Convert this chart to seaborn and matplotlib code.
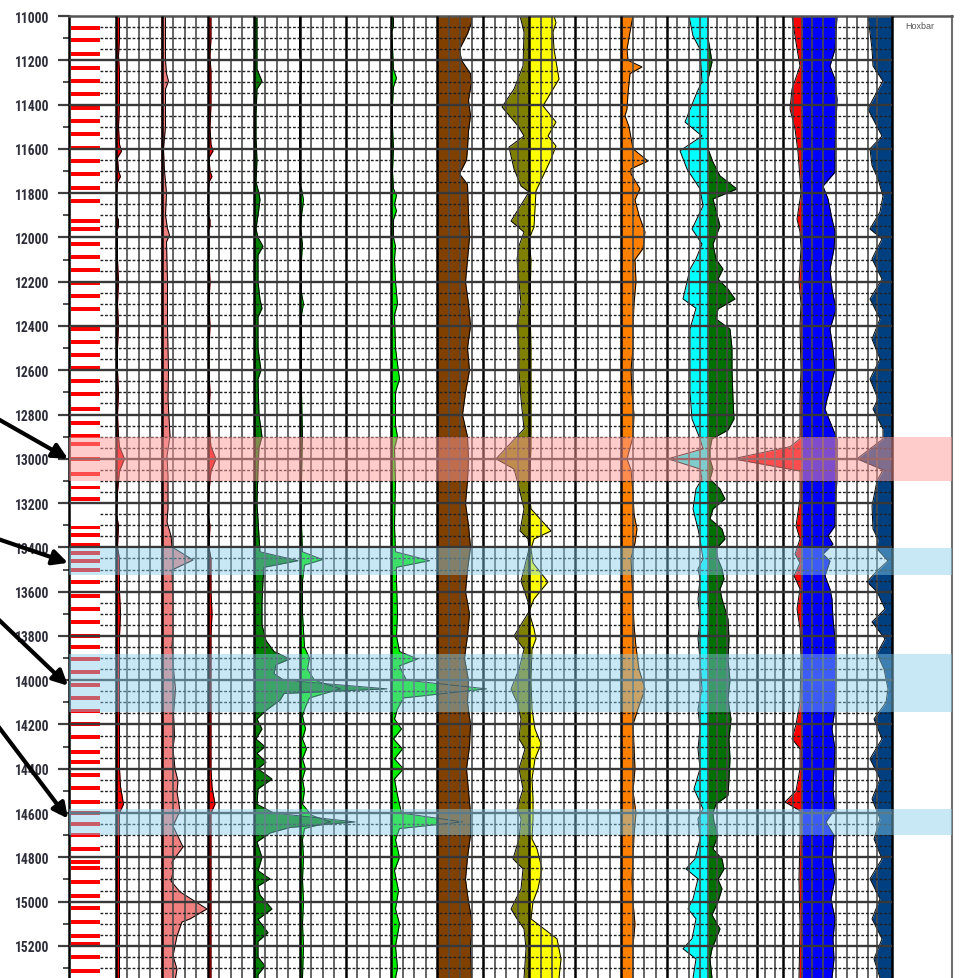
import numpy as np
import matplotlib
matplotlib.use("Agg")
import matplotlib.pyplot as plt
from matplotlib import font_manager
import seaborn as sns

# ---------------- data (depth ft, value in track units) ----------------
litho_depths = [11054, 11108, 11172, 11235, 11294, 11352, 11415, 11474, 11533, 11596, 11655,
                11713, 11777, 11835, 11926, 11962, 12030, 12088, 12147, 12206, 12264, 12323,
                12414, 12472, 12531, 12590, 12648, 12707, 12775, 12838, 12897, 12933, 13000,
                13068, 13130, 13180, 13310, 13343, 13389, 13425, 13461, 13502, 13556, 13619,
                13678, 13737, 13800, 13850, 13904, 13962, 14021, 14080, 14139, 14197, 14256,
                14324, 14369, 14428, 14487, 14550, 14600, 14649, 14699, 14762, 14821, 14848,
                14911, 14974, 15028, 15092, 15155, 15191, 15250, 15313]

red_curve = [(11000, 3), (11100, 3), (11180, 2), (11250, 3), (11400, 3), (11500, 2), (11580, 3),
             (11610, 5), (11640, 1), (11700, 2), (11725, 4), (11750, 1), (11800, 0), (11900, 0),
             (11920, 2), (11950, 2), (11970, 0), (12000, 1), (12100, 1), (12200, 2), (12300, 1),
             (12400, 2), (12500, 1), (12600, 1), (12700, 2), (12800, 1), (12900, 2), (12945, 3),
             (13000, 8), (13055, 3), (13100, 2), (13150, 1), (13250, 0), (13300, 2), (13400, 1),
             (13450, 3), (13600, 3), (13700, 4), (13800, 3), (14000, 3), (14200, 3), (14400, 3),
             (14480, 4), (14560, 7), (14600, 3), (14800, 3), (15000, 3), (15200, 3), (15345, 3)]

pink_curve = [(11000, 5), (11100, 5), (11200, 5), (11260, 6), (11294, 8), (11330, 5), (11500, 5),
              (11600, 3), (11700, 4), (11800, 6), (11900, 5), (11960, 7), (11990, 9), (12020, 6),
              (12200, 7), (12400, 7), (12600, 8), (12730, 7.5), (12897, 9.5), (12987, 6.5),
              (13077, 7.5), (13226, 7.5), (13285, 6.5), (13348, 10.5), (13398, 11.5), (13457, 32.5),
              (13502, 11.5), (13633, 12.5), (13782, 12.5), (13845, 11.5), (13950, 13), (14040, 15),
              (14150, 13), (14250, 14), (14310, 12.5), (14400, 14.5), (14455, 17.5), (14505, 16.5),
              (14590, 19.5), (14658, 12.5), (14753, 22.5), (14821, 11.5), (14866, 12.5),
              (14907, 10.5), (14956, 19.5), (15033, 46.5), (15078, 29.5), (15092, 21.5),
              (15155, 16.5), (15245, 12.5), (15304, 16.5), (15345, 15)]

dkgreen_curve = [(11000, 3), (11150, 3), (11240, 3), (11294, 8), (11330, 3), (11450, 2), (11550, 2),
                 (11650, 3), (11750, 2), (11800, 5), (11830, 6), (11900, 4), (11960, 2), (12000, 4),
                 (12040, 9), (12080, 4), (12200, 4), (12280, 6), (12320, 8), (12360, 4), (12500, 4),
                 (12600, 7), (12640, 4), (12800, 5), (12900, 8), (12950, 5), (13050, 4), (13200, 3),
                 (13350, 5), (13420, 6), (13460, 44), (13490, 10), (13550, 9), (13650, 8), (13750, 8),
                 (13820, 12), (13870, 20), (13904, 36), (13930, 22), (13970, 20), (14000, 30),
                 (14039, 133), (14060, 30), (14090, 26), (14140, 11), (14175, 3), (14220, 8),
                 (14265, 2), (14300, 11), (14330, 3), (14370, 12), (14400, 4), (14446, 18),
                 (14491, 4), (14560, 3), (14600, 20), (14640, 101), (14665, 36), (14690, 16),
                 (14730, 3), (14800, 8), (14860, 4), (14897, 16), (14930, 4), (14970, 6),
                 (15033, 18), (15080, 4), (15140, 14), (15180, 4), (15250, 4), (15290, 11),
                 (15330, 4), (15345, 4)]

ltgreen1_curve = [(11000, 0), (11180, 0), (11200, 2), (11300, 2), (11320, 0), (11760, 0), (11780, 2),
                  (11830, 4), (11870, 3), (11900, 2), (11960, 1), (12030, 3), (12100, 2), (12250, 2),
                  (12300, 4), (12350, 2), (12500, 2), (12700, 2), (12900, 3), (13100, 2), (13300, 2),
                  (13420, 3), (13455, 23), (13480, 5), (13550, 3), (13700, 3), (13850, 5), (13900, 10),
                  (13950, 8), (14000, 15), (14039, 41), (14080, 10), (14120, 6), (14160, 3),
                  (14220, 6), (14265, 3), (14310, 7), (14355, 3), (14400, 6), (14446, 3), (14500, 5),
                  (14560, 3), (14610, 12), (14640, 31), (14670, 5), (14720, 3), (14800, 4),
                  (14900, 3), (15000, 4), (15100, 3), (15200, 4), (15345, 3)]

ltgreen2_curve = [(11000, 2), (11050, 2), (11070, 0), (11140, 1), (11240, 2), (11280, 5), (11320, 2),
                  (11400, 1), (11500, 1), (11600, 2), (11700, 1), (11780, 2), (11810, 5), (11850, 3),
                  (11880, 5), (11920, 2), (12000, 2), (12040, 4), (12100, 3), (12200, 4), (12300, 6),
                  (12350, 3), (12500, 4), (12640, 8), (12700, 4), (12850, 4), (12900, 6), (12950, 3),
                  (13100, 4), (13300, 3), (13420, 4), (13460, 38), (13490, 5), (13550, 5), (13700, 6),
                  (13800, 5), (13870, 8), (13904, 26), (13935, 8), (13965, 11), (14000, 15),
                  (14039, 95), (14080, 12), (14130, 6), (14175, 3), (14220, 10), (14265, 2),
                  (14310, 11), (14355, 3), (14400, 12), (14446, 3), (14520, 6), (14600, 10),
                  (14640, 71), (14670, 8), (14720, 4), (14800, 8), (14860, 3), (14950, 7),
                  (15033, 4), (15100, 8), (15200, 4), (15300, 6), (15345, 4)]

brown_curve = [(11000, 34), (11030, 34), (11080, 30), (11150, 22), (11200, 24), (11260, 33),
               (11300, 34), (11380, 31), (11450, 33), (11520, 31), (11600, 30), (11650, 29),
               (11713, 22), (11760, 30), (11900, 31), (12000, 32), (12100, 30), (12200, 28),
               (12300, 31), (12400, 33), (12500, 30), (12600, 32), (12700, 28), (12800, 25),
               (12900, 30), (13000, 31), (13100, 30), (13200, 28), (13300, 31), (13400, 33),
               (13500, 30), (13600, 28), (13700, 32), (13800, 30), (13900, 27), (14000, 31),
               (14100, 30), (14200, 33), (14300, 32), (14400, 29), (14500, 31), (14600, 33),
               (14700, 33), (14800, 30), (14900, 28), (15000, 31), (15100, 35), (15200, 33),
               (15345, 34)]

olive_curve = [(11000, 9), (11072, 5), (11226, 6), (11330, 15), (11411, 27), (11497, 11), (11542, 5),
               (11592, 20), (11691, 15), (11768, 8), (11795, 0), (11926, 18), (11976, 5), (12038, 10),
               (12100, 12), (12200, 10), (12300, 8), (12400, 12), (12500, 10), (12600, 10),
               (12730, 8), (12865, 5), (13000, 33), (13046, 15), (13113, 11), (13226, 5), (13326, 9),
               (13362, 1), (13407, 0), (13552, 8), (13646, 1), (13690, 0), (13800, 15), (13860, 5),
               (13950, 10), (14040, 18), (14100, 12), (14175, 8), (14265, 10), (14310, 4),
               (14400, 10), (14491, 6), (14581, 12), (14626, 8), (14717, 10), (14807, 16),
               (14852, 6), (14942, 8), (15033, 18), (15078, 12), (15123, 5), (15213, 3), (15345, 5)]

yellow_curve = [(11000, 25), (11030, 27), (11072, 24), (11150, 25), (11285, 30), (11330, 24),
                (11406, 14), (11479, 27), (11542, 19), (11587, 27), (11646, 22), (11790, 7),
                (11953, 5), (12007, 0), (12100, 2), (12300, 1), (12500, 2), (12730, 2), (12955, 2),
                (13136, 0), (13226, 2), (13326, 22), (13362, 5), (13407, 2), (13470, 4), (13556, 19),
                (13633, 5), (13690, 0), (13768, 5), (13813, 7), (13860, 3), (14000, 2), (14130, 3),
                (14220, 6), (14288, 12), (14355, 6), (14446, 3), (14536, 4), (14626, 4), (14717, 3),
                (14762, 8), (14852, 13), (14942, 9), (15000, 4), (15078, 2), (15123, 15),
                (15168, 28), (15259, 32), (15345, 30)]

orange_curve = [(11000, 12), (11072, 9), (11150, 6), (11200, 7), (11230, 21), (11260, 9), (11350, 7),
                (11420, 6), (11450, 4), (11500, 8), (11600, 12), (11655, 27), (11690, 10),
                (11713, 10), (11780, 19), (11830, 14), (11900, 18), (11975, 24), (12050, 22),
                (12100, 14), (12200, 15), (12300, 13), (12400, 12), (12500, 12), (12600, 10),
                (12700, 11), (12800, 13), (12900, 12), (13000, 6), (13050, 10), (13150, 12),
                (13250, 13), (13317, 16), (13380, 14), (13450, 10), (13550, 11), (13650, 12),
                (13750, 13), (13850, 15), (13950, 18), (14040, 24), (14130, 17), (14200, 12),
                (14300, 13), (14400, 14), (14500, 12), (14600, 15), (14700, 13), (14800, 12),
                (14900, 11), (15000, 12), (15100, 14), (15200, 12), (15345, 12)]

cyan_curve = [(11000, 19), (11090, 15), (11150, 8), (11298, 6), (11344, 11), (11479, 23), (11542, 6),
              (11609, 28), (11691, 21), (11781, 8), (11858, 5), (11962, 16), (12030, 6), (12097, 12),
              (12143, 18), (12278, 25), (12320, 12), (12414, 18), (12550, 18), (12700, 18),
              (12820, 16), (12910, 8), (12955, 5), (13000, 40), (13046, 8), (13091, 6), (13136, 12),
              (13226, 15), (13317, 10), (13362, 8), (13452, 5), (13497, 10), (13542, 8), (13633, 10),
              (13723, 8), (13813, 10), (13904, 8), (14039, 6), (14130, 10), (14220, 8), (14310, 10),
              (14400, 8), (14491, 14), (14581, 5), (14626, 10), (14717, 8), (14807, 13), (14852, 22),
              (14897, 10), (14988, 15), (15033, 20), (15078, 12), (15168, 16), (15213, 25),
              (15259, 12), (15345, 15)]

green_curve = [(11000, 0), (11100, 0), (11150, 2), (11208, 4), (11285, 0), (11600, 0), (11660, 5),
               (11722, 12), (11781, 29), (11826, 5), (11948, 12), (12030, 5), (12097, 8), (12143, 15),
               (12188, 10), (12233, 20), (12278, 27), (12323, 10), (12368, 8), (12414, 22),
               (12500, 24), (12600, 24), (12730, 25), (12820, 26), (12870, 20), (12910, 4),
               (12955, 2), (13000, 2), (13046, 5), (13091, 2), (13136, 12), (13181, 17), (13226, 5),
               (13271, 2), (13317, 14), (13362, 17), (13407, 8), (13452, 10), (13497, 14),
               (13542, 16), (13588, 12), (13633, 14), (13723, 20), (13813, 21), (13904, 20),
               (14000, 22), (14084, 20), (14175, 23), (14265, 21), (14355, 22), (14446, 21),
               (14520, 20), (14560, 8), (14600, 5), (14640, 6), (14700, 10), (14762, 5), (14807, 14),
               (14852, 16), (14900, 10), (14942, 14), (15000, 10), (15060, 4), (15123, 12),
               (15168, 8), (15213, 4), (15259, 2), (15345, 4)]

red2_curve = [(11000, 10), (11149, 5), (11226, 2), (11330, 10), (11420, 12), (11510, 7), (11615, 4),
              (11736, 2), (11800, 1), (11917, 5), (11975, 2), (12050, 1), (12200, 3), (12300, 1),
              (12400, 2), (12600, 1), (12730, 2), (12910, 2), (12945, 12), (13000, 69), (13055, 2),
              (13181, 2), (13303, 6), (13362, 2), (13430, 7), (13470, 2), (13528, 8), (13588, 2),
              (13678, 5), (13768, 2), (13900, 1), (14100, 2), (14200, 6), (14265, 10), (14310, 2),
              (14400, 2), (14500, 6), (14550, 17), (14590, 2), (14700, 2), (14900, 3), (15100, 2),
              (15345, 3)]

blue_curve = [(11000, 35), (11149, 33), (11226, 28), (11285, 33), (11375, 35), (11600, 33),
              (11705, 33), (11768, 21), (11826, 26), (11917, 30), (11975, 33), (12050, 32),
              (12143, 28), (12233, 30), (12323, 34), (12414, 28), (12504, 31), (12594, 33),
              (12684, 28), (12730, 25), (12775, 23), (12865, 31), (12910, 35), (13091, 35),
              (13226, 33), (13303, 33), (13348, 26), (13385, 31), (13430, 21), (13461, 28),
              (13528, 23), (13588, 28), (13633, 30), (13723, 31), (13813, 33), (13904, 34),
              (14039, 34), (14130, 33), (14220, 30), (14310, 33), (14400, 32), (14491, 31),
              (14581, 33), (14640, 24), (14700, 32), (14807, 30), (14897, 33), (14988, 29),
              (15078, 33), (15168, 31), (15259, 32), (15345, 30)]

navy_curve = [(11000, 24), (11149, 20), (11226, 19), (11294, 9), (11375, 19), (11420, 24), (11465, 19),
              (11542, 10), (11600, 22), (11675, 20), (11736, 14), (11813, 9), (11885, 12),
              (11962, 22), (12007, 10), (12097, 20), (12188, 10), (12278, 22), (12368, 12),
              (12459, 20), (12549, 12), (12640, 22), (12730, 14), (12775, 19), (12865, 9),
              (12910, 9), (13000, 35), (13050, 9), (13100, 15), (13213, 20), (13317, 19),
              (13362, 14), (13407, 15), (13461, 4), (13502, 14), (13556, 25), (13600, 15),
              (13678, 7), (13737, 20), (13813, 7), (13880, 15), (13950, 8), (14039, 4), (14100, 6),
              (14175, 18), (14265, 10), (14355, 22), (14446, 12), (14536, 20), (14626, 12),
              (14717, 18), (14807, 10), (14897, 22), (14988, 12), (15078, 20), (15168, 10),
              (15259, 18), (15345, 12)]

bands = [(12900, 13100, "#ff9a9a", 0.5), (13405, 13525, "#87ceeb", 0.45),
         (13880, 14145, "#87ceeb", 0.45), (14580, 14700, "#87ceeb", 0.45)]
arrow_tips = [13000, 13470, 14025, 14625]
depth_labels = list(range(11000, 15201, 200))

# ---------------- figure ----------------
sns.set_style("white")
plt.rcParams["font.family"] = ["Liberation Sans", "DejaVu Sans"]

available = {f.name for f in font_manager.fontManager.ttflist}
label_family, label_size = "Liberation Sans", 8.8
for cand in ["Liberation Sans Narrow", "Arial Narrow", "Roboto Condensed", "DejaVu Sans Condensed"]:
    if cand in available:
        label_family, label_size = cand, 9.8
        break

W, H = 962, 979
fig = plt.figure(figsize=(W / 100, H / 100), dpi=100)
ax = fig.add_axes([69 / W, 0, (952 - 69) / W, (H - 17) / H])
ax.set_xlim(69, 952)
ax.set_ylim(15345, 11000)


def split(curve):
    d = np.array([c[0] for c in curve], float)
    v = np.array([c[1] for c in curve], float)
    return d, v


def track(curve, base, color, sign=1):
    d, v = split(curve)
    x = base + sign * v
    ax.fill_betweenx(d, base, x, color=color, lw=0, zorder=1)
    sns.lineplot(x=x, y=d, orient="y", sort=False, estimator=None,
                 color="black", lw=0.7, ax=ax, zorder=2)


track(red_curve, 116.5, "#ff0000")
track(pink_curve, 160.5, "#f08080")
track(red_curve, 208, "#ff0000")
track(ltgreen1_curve, 299.5, "#00f000")
track(dkgreen_curve, 254, "#008000")
track(ltgreen2_curve, 391.5, "#00f000")
track(brown_curve, 437.5, "#804000")
track(olive_curve, 529, "#808000", -1)
track(yellow_curve, 529, "#ffff00")
track(orange_curve, 621, "#ff8000")
track(cyan_curve, 708, "#00ffff", -1)
track(green_curve, 708, "#007000")
track(red2_curve, 802, "#ff0000", -1)
track(blue_curve, 802, "#0000ff")
track(navy_curve, 892, "#004080", -1)

# lithology markers
ax.barh(litho_depths, 29, left=71, height=17, color="#ff0000", lw=0, zorder=2)

# grid
left_lines = np.linspace(116, 667, 49)
for i, xv in enumerate(left_lines):
    thick = i % 4 == 0
    ax.vlines(xv, 11000, 15345, colors="#000000" if thick else "#4a4a4a",
              lw=1.8 if thick else 1.2, zorder=3)
right_lines = [677, 689, 700, 708, 717, 727, 737, 747, 757, 765, 775, 783, 793, 802, 812,
               823, 836, 847, 857, 868, 877, 892]
for xv in right_lines:
    thick = xv in (757, 783, 892)
    ax.vlines(xv, 11000, 15345, colors="#000000" if thick else "#4a4a4a",
              lw=1.8 if thick else 1.2, zorder=3)
minor_y = [y for y in range(11050, 15345, 50) if y % 200 != 0]
ax.hlines(minor_y, 100, 892, colors="#202020", linestyles=(0, (2, 1.3)), lw=1.0, zorder=3)
ax.hlines(list(range(11200, 15345, 200)), 69, 892, colors="#383838", lw=1.7, zorder=3)

# highlight bands
for lo, hi, c, a in bands:
    ax.axhspan(lo, hi, color=c, alpha=a, lw=0, zorder=5)

# axes styling
ax.spines["bottom"].set_visible(False)
ax.spines["left"].set_color("black")
ax.spines["left"].set_linewidth(1.8)
ax.spines["top"].set_color("#555555")
ax.spines["top"].set_linewidth(1.8)
ax.spines["right"].set_color("#707070")
ax.spines["right"].set_linewidth(1.5)
ax.set_xticks([])
ax.set_xlabel("")
ax.set_ylabel("")
ax.set_yticks(depth_labels)
ax.set_yticklabels([str(d) for d in depth_labels])
ax.set_yticks(list(range(11100, 15345, 200)), minor=True)
ax.tick_params(axis="y", which="major", length=8, width=1.6, color="#404040",
               pad=6, labelsize=label_size, labelcolor="#2e2e3a", left=True)
ax.tick_params(axis="y", which="minor", length=4.5, width=1.3, color="#404040", left=True)
for lbl in ax.get_yticklabels():
    lbl.set_fontweight("bold")
    lbl.set_family(label_family)

ax.text(905, 11045, "Hoxbar", fontsize=6.5, color="#555555", va="center", ha="left",
        family=["Liberation Sans", "DejaVu Sans"], zorder=6)

# arrows
tails = [(-2, H - 420), (-2, H - 540), (-2, H - 620), (-2, H - 727)]
for tip, tail in zip(arrow_tips, tails):
    ax.annotate("", xy=(68, tip), xycoords="data", xytext=tail, textcoords="figure pixels",
                arrowprops=dict(arrowstyle="-|>,head_length=0.9,head_width=0.45",
                                color="black", lw=3, shrinkA=0, shrinkB=0),
                annotation_clip=False, zorder=10)

fig.savefig("out.png", dpi=100)
